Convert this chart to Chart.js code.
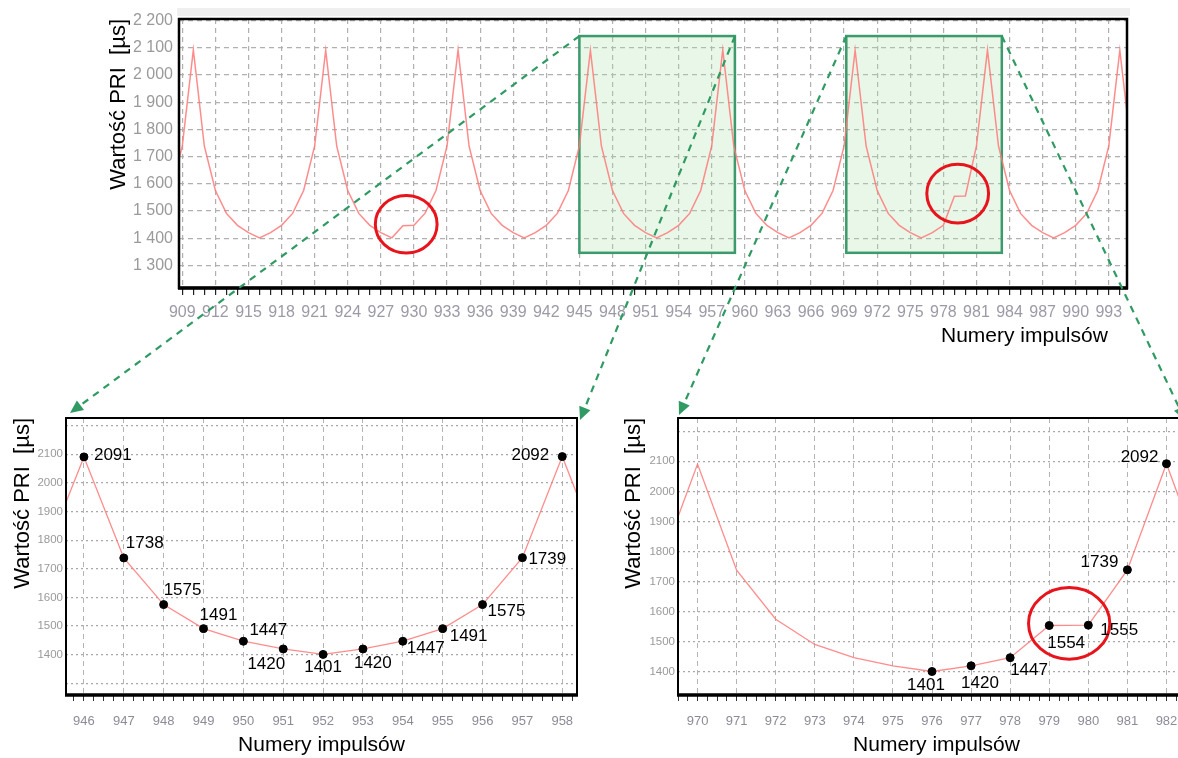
<!DOCTYPE html>
<html>
<head>
<meta charset="utf-8">
<title>Wartość PRI</title>
<script src="https://cdn.jsdelivr.net/npm/chart.js@4.4.1/dist/chart.umd.min.js"></script>
<style>
  html, body { margin: 0; padding: 0; background: #fff; }
  #wrap { position: relative; width: 1178px; height: 758px; overflow: hidden; }
  canvas { position: absolute; }
  .xtitle { position: absolute; font: 21px "Liberation Sans", Arial, sans-serif; color: #000; white-space: nowrap; }
</style>
</head>
<body>
<div id="wrap">
  <canvas id="top" width="1178" height="350" style="left:0;top:0"></canvas>
  <canvas id="left" width="600" height="378" style="left:0;top:380px"></canvas>
  <canvas id="right" width="620" height="378" style="left:600px;top:380px"></canvas>
  <div class="xtitle" style="left:941px;top:323px">Numery impulsów</div>
  <canvas id="arrows" width="1178" height="758" style="left:0;top:0;pointer-events:none"></canvas>
</div>
<script>
// pulse numbers and PRI values [µs]
const pulses = [
  908, 909, 910, 911, 912, 913, 914, 915, 916, 917, 918, 919, 920, 921,
  922, 923, 924, 925, 926, 927, 928, 929, 930, 931, 932, 933,
  934, 935, 936, 937, 938, 939, 940, 941, 942, 943, 944, 945,
  946, 947, 948, 949, 950, 951, 952, 953, 954, 955, 956, 957,
  958, 959, 960, 961, 962, 963, 964, 965, 966, 967, 968, 969,
  970, 971, 972, 973, 974, 975, 976, 977, 978, 979, 980, 981,
  982, 983, 984, 985, 986, 987, 988, 989, 990, 991, 992, 993,
  994, 995
];
const pri = [
  1575, 1739, 2092, 1738, 1575, 1491, 1447, 1420, 1401, 1420, 1447, 1491, 1575, 1739,
  2091, 1738, 1575, 1491, 1447, 1420, 1401, 1446, 1447, 1491, 1575, 1739,
  2092, 1738, 1575, 1491, 1447, 1420, 1401, 1420, 1447, 1491, 1575, 1739,
  2091, 1738, 1575, 1491, 1447, 1420, 1401, 1420, 1447, 1491, 1575, 1739,
  2092, 1738, 1575, 1491, 1447, 1420, 1401, 1420, 1447, 1491, 1575, 1739,
  2091, 1738, 1575, 1491, 1447, 1420, 1401, 1420, 1447, 1554, 1555, 1739,
  2092, 1738, 1575, 1491, 1447, 1420, 1401, 1420, 1447, 1491, 1575, 1739,
  2091, 1738
];

// pulses shown with a dot and value in the zoomed views
const markedLeft = [946, 947, 948, 949, 950, 951, 952, 953, 954, 955, 956, 957, 958];
const markedRight = [976, 977, 978, 979, 980, 981, 982];

const sans = '"Liberation Sans", Arial, sans-serif';
const lineRed = 'rgba(255, 120, 120, 0.85)';

const series = pulses.map((p, i) => ({ x: p, y: pri[i] }));
const marks = list => list.map(p => ({ x: p, y: pri[pulses.indexOf(p)] }));

// black frame round the plot area
const frame = {
  id: 'frame',
  afterDraw(chart, args, opts) {
    const { ctx, chartArea: a } = chart;
    ctx.save();
    ctx.strokeStyle = '#000';
    ctx.lineWidth = opts.width;
    ctx.strokeRect(a.left, a.top, a.right - a.left, a.bottom - a.top);
    ctx.lineWidth = opts.bottom;
    ctx.beginPath();
    ctx.moveTo(a.left - 1, a.bottom);
    ctx.lineTo(a.right + 1, a.bottom);
    ctx.stroke();
    ctx.restore();
  }
};

// grey strip above the top plot, green zoom boxes
const boxes = {
  id: 'boxes',
  beforeDatasetsDraw(chart, args, opts) {
    if (!opts.list) return;
    const { ctx, scales: { x, y } } = chart;
    ctx.save();
    for (const b of opts.list) {
      const l = x.getPixelForValue(b.x0), r = x.getPixelForValue(b.x1);
      const t = y.getPixelForValue(b.y1), btm = y.getPixelForValue(b.y0);
      ctx.fillStyle = 'rgba(170, 225, 170, 0.27)';
      ctx.fillRect(l, t, r - l, btm - t);
      ctx.strokeStyle = '#3c9a6c';
      ctx.lineWidth = 2.5;
      ctx.strokeRect(l, t, r - l, btm - t);
    }
    ctx.restore();
  },
  beforeDraw(chart, args, opts) {
    if (!opts.band) return;
    const { ctx, chartArea: a } = chart;
    ctx.fillStyle = '#efefef';
    ctx.fillRect(a.left - 2, 8, a.right - a.left + 5, 8);
  }
};

// red rings
const rings = {
  id: 'rings',
  afterDatasetsDraw(chart, args, opts) {
    if (!opts.list) return;
    const { ctx, scales: { x, y } } = chart;
    ctx.save();
    ctx.strokeStyle = '#e8141c';
    ctx.lineWidth = 3;
    for (const r of opts.list) {
      const cx = x.getPixelForValue(r.x), cy = y.getPixelForValue(r.y);
      const rx = Math.abs(x.getPixelForValue(r.x + r.dx) - cx);
      const ry = Math.abs(y.getPixelForValue(r.y + r.dy) - cy);
      ctx.beginPath();
      ctx.ellipse(cx, cy, rx, ry, 0, 0, Math.PI * 2);
      ctx.stroke();
    }
    ctx.restore();
  }
};

// value labels next to the dots
const valueLabels = {
  id: 'valueLabels',
  afterDatasetsDraw(chart, args, opts) {
    if (!opts.spots) return;
    const { ctx } = chart;
    const meta = chart.getDatasetMeta(1);
    const data = chart.data.datasets[1].data;
    ctx.save();
    ctx.font = '17px ' + sans;
    ctx.fillStyle = '#000';
    ctx.textBaseline = 'middle';
    meta.data.forEach((pt, i) => {
      const [dx, dy, align] = opts.spots[i];
      ctx.textAlign = align;
      ctx.fillText(String(data[i].y), pt.x + dx, pt.y + dy);
    });
    ctx.restore();
  }
};

function zoomChart(id, xMin, xMax, yMin, yMax, pad, yWidth, marked, spots, ringList, lastLabel) {
  return new Chart(document.getElementById(id), {
    type: 'line',
    data: {
      datasets: [
        { data: series, borderColor: lineRed, borderWidth: 1.3, pointRadius: 0, tension: 0, order: 1 },
        { data: marks(marked), showLine: false, pointRadius: 4, pointBackgroundColor: '#000', pointBorderColor: '#000', order: 0 }
      ]
    },
    options: {
      responsive: false,
      animation: false,
      layout: { padding: pad },
      plugins: {
        legend: { display: false },
        tooltip: { enabled: false },
        frame: { width: 2, bottom: 3.5 },
        rings: { list: ringList },
        valueLabels: { spots: spots }
      },
      scales: {
        x: {
          type: 'linear', min: xMin, max: xMax,
          afterFit: s => { s.height = 63; },
          border: { display: false, dash: [5, 4] },
          grid: {
            color: c => (c.tick && Number.isInteger(c.tick.value)) ? '#b4b4b4' : 'transparent',
            lineWidth: 1, tickColor: '#333', tickLength: 6
          },
          ticks: {
            stepSize: 0.25, autoSkip: false, includeBounds: false, maxRotation: 0, padding: 13,
            color: '#8c8c98', font: { family: sans, size: 13 },
            callback: v => (Number.isInteger(v) && v <= lastLabel) ? String(v) : ''
          },
          title: { display: true, text: 'Numery impulsów', color: '#000', font: { family: sans, size: 21 }, padding: { top: 0, bottom: 0 } }
        },
        y: {
          min: yMin, max: yMax,
          afterFit: s => { s.width = yWidth; },
          border: { display: false, dash: [2, 3] },
          grid: { color: '#a8a8a8', lineWidth: 1.2, drawTicks: false },
          ticks: {
            stepSize: 100, includeBounds: false, padding: 3,
            color: '#9a9a9a', font: { family: sans, size: 11.5 },
            callback: v => (v < 1400 || v > 2100) ? '' : String(v)
          },
          title: { display: true, text: 'Wartość PRI  [µs]', align: 'end', color: '#000', font: { family: sans, size: 22 }, padding: { top: 4, bottom: 0 } }
        }
      }
    },
    plugins: [frame, rings, valueLabels]
  });
}

// overview chart
const topChart = new Chart(document.getElementById('top'), {
  type: 'line',
  data: { datasets: [{ data: series, borderColor: lineRed, borderWidth: 1.5, pointRadius: 0, tension: 0 }] },
  options: {
    responsive: false,
    animation: false,
    layout: { padding: { left: 102, right: 51, top: 19, bottom: 22 } },
    plugins: {
      legend: { display: false },
      tooltip: { enabled: false },
      frame: { width: 2.5, bottom: 3.5 },
      boxes: {
        band: true,
        list: [
          { x0: 945.0, x1: 959.1, y0: 1346, y1: 2143 },
          { x0: 969.2, x1: 983.3, y0: 1346, y1: 2143 }
        ]
      },
      rings: {
        list: [
          { x: 929.3, y: 1451, dx: 2.8, dy: 106 },
          { x: 979.3, y: 1564, dx: 2.8, dy: 108 }
        ]
      }
    },
    scales: {
      x: {
        type: 'linear', min: 908.7, max: 994.65,
        afterFit: s => { s.height = 40; },
        border: { display: false, dash: [5, 4] },
        grid: {
          color: c => (c.tick && (c.tick.value - 909) % 3 === 0) ? '#b0b0b0' : 'transparent',
          lineWidth: 1.2, tickColor: '#222', tickLength: 7
        },
        ticks: {
          stepSize: 1, autoSkip: false, includeBounds: false, maxRotation: 0, padding: 8,
          color: '#9c9aa6', font: { family: sans, size: 16 },
          callback: v => (v - 909) % 3 === 0 ? String(v) : ''
        }
      },
      y: {
        min: 1216.7, max: 2205.7,
        afterFit: s => { s.width = 77; },
        border: { display: false, dash: [5, 4] },
        grid: { color: '#b0b0b0', lineWidth: 1.2, drawTicks: false },
        ticks: {
          stepSize: 100, includeBounds: false, padding: 6,
          color: '#9a9a9a', font: { family: sans, size: 16 },
          callback: v => Math.floor(v / 1000) + ' ' + String(v % 1000).padStart(3, '0')
        },
        title: { display: true, text: 'Wartość PRI  [µs]', align: 'end', color: '#000', font: { family: sans, size: 22 }, padding: { top: 4, bottom: 0 } }
      }
    }
  },
  plugins: [frame, boxes, rings]
});

const leftChart = zoomChart('left', 945.55, 958.37, 1259.2, 2226.9,
  { left: 6, right: 23, top: 38, bottom: 0 }, 60, markedLeft,
  [[10, -2, 'left'], [2, -15, 'left'], [0, -14, 'left'], [-4, -13, 'left'], [6, -11, 'left'],
   [2, 15, 'right'], [0, 13, 'center'], [-9, 14, 'left'], [4, 7, 'left'], [7, 8, 'left'],
   [5, 7, 'left'], [6, 2, 'left'], [-13, -1, 'right']],
  null, 958);

const rightChart = zoomChart('right', 969.5, 982.73, 1322.9, 2244,
  { left: 17, right: 25, top: 38, bottom: 0 }, 61, markedRight,
  [[-6, 14, 'center'], [-10, 18, 'left'], [0, 13, 'left'], [-2, 18, 'left'],
   [12, 5, 'left'], [-9, -8, 'right'], [-8, -6, 'right']],
  [{ x: 979.51, y: 1561, dx: 1.04, dy: 119 }], 982);

// dashed green arrows from the zoom boxes to the zoomed views
function arrow(ctx, x0, y0, x1, y1) {
  const ang = Math.atan2(y1 - y0, x1 - x0);
  const head = 13, half = 6;
  const bx = x1 - head * Math.cos(ang), by = y1 - head * Math.sin(ang);
  ctx.setLineDash([7, 6]);
  ctx.beginPath();
  ctx.moveTo(x0, y0);
  ctx.lineTo(bx, by);
  ctx.stroke();
  ctx.setLineDash([]);
  ctx.beginPath();
  ctx.moveTo(x1, y1);
  ctx.lineTo(bx + half * Math.sin(ang), by - half * Math.cos(ang));
  ctx.lineTo(bx - half * Math.sin(ang), by + half * Math.cos(ang));
  ctx.closePath();
  ctx.fill();
}

const ov = document.getElementById('arrows').getContext('2d');
ov.strokeStyle = '#2f9a62';
ov.fillStyle = '#2f9a62';
ov.lineWidth = 2.2;
const tx = topChart.scales.x, ty = topChart.scales.y;
const bx = topChart.options.plugins.boxes.list;
const la = leftChart.chartArea, ra = rightChart.chartArea;
arrow(ov, tx.getPixelForValue(bx[0].x0), ty.getPixelForValue(bx[0].y1), la.left + 4, 380 + la.top - 5);
arrow(ov, tx.getPixelForValue(bx[0].x1), ty.getPixelForValue(bx[0].y1), la.right + 3, 380 + la.top + 2);
arrow(ov, tx.getPixelForValue(bx[1].x0), ty.getPixelForValue(bx[1].y1), 600 + ra.left + 1, 380 + ra.top - 3);
arrow(ov, tx.getPixelForValue(bx[1].x1), ty.getPixelForValue(bx[1].y1), 600 + ra.right - 10, 380 + ra.top + 2);
</script>
</body>
</html>
